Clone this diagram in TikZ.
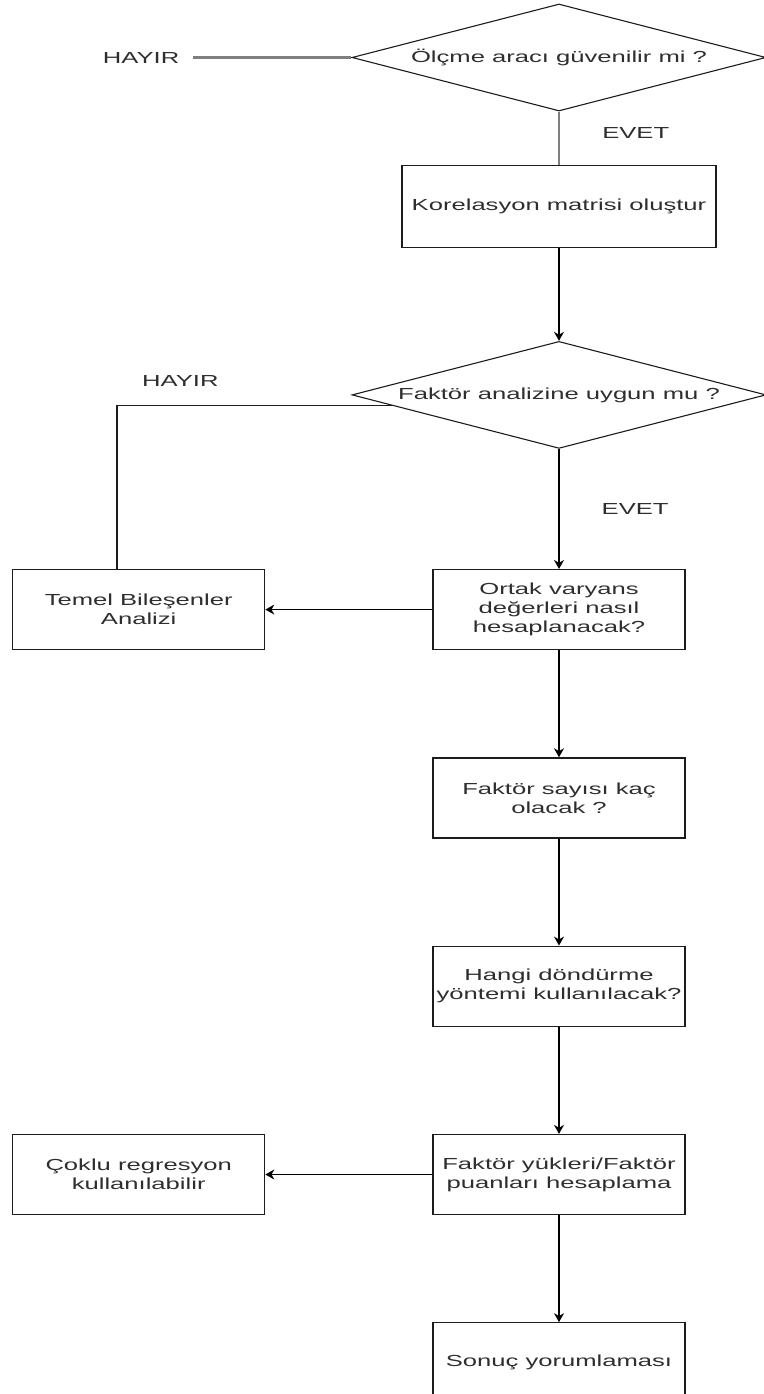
\documentclass[tikz,border=0pt]{standalone}
\usepackage{fontspec}
\setmainfont{Liberation Sans}[FakeStretch=1.6]
\usepackage{xcolor}
\usetikzlibrary{arrows.meta,positioning,calc,shapes.geometric}
\definecolor{Ink}{HTML}{2E2E2E}
\definecolor{Edge}{HTML}{1C1C1C}
\definecolor{Wire}{HTML}{7F7F7F}
\tikzset{
  box/.style={draw=Edge,line width=1.3pt,minimum width=252pt,minimum height=80pt,align=center,font=\fontsize{16}{19}\selectfont,text=Ink,inner sep=2pt},
  ask/.style={draw=Edge,line width=1.1pt,diamond,aspect=3.87,minimum width=414pt,minimum height=107pt,inner sep=0pt,font=\fontsize{16}{19}\selectfont,text=Ink},
  lbl/.style={font=\fontsize{16}{19}\selectfont,text=Ink,inner sep=0pt},
  arr/.style={-{Stealth[length=9pt,width=10pt]},draw=black,line width=1.4pt},
  plain/.style={draw=Edge,line width=1.3pt},
  soft/.style={draw=Wire,line width=2.6pt}
}

\begin{document}
\begin{tikzpicture}[x=1pt,y=1pt,node distance=107pt]
  \useasboundingbox (0,0) rectangle (763,-1394);
  \node[ask] (olcme) at (559,-57.5) {Ölçme aracı güvenilir mi ?};
  \node[box,minimum width=314pt,minimum height=82pt,below=53pt of olcme] (korel) {Korelasyon matrisi oluştur};
  \node[ask,below=93pt of korel] (uygun) {Faktör analizine uygun mu ?};
  \node[box,below=120pt of uygun] (ortak) {Ortak varyans\\değerleri nasıl\\hesaplanacak?};
  \node[box,below=of ortak] (sayi) {Faktör sayısı kaç\\olacak ?};
  \node[box,below=of sayi] (donme) {Hangi döndürme\\yöntemi kullanılacak?};
  \node[box,below=of donme] (yuk) {Faktör yükleri/Faktör\\puanları hesaplama};
  \node[box,below=of yuk] (sonuc) {Sonuç yorumlaması};
  \node[box,left=167pt of ortak] (temel) {Temel Bileşenler\\Analizi};
  \node[box,left=167pt of yuk] (coklu) {Çoklu regresyon\\kullanılabilir};
  \node[lbl,left=172pt of olcme] (hayir1) {HAYIR};
  \draw[soft] ([xshift=14pt]hayir1.east) -- (olcme.west);
  \draw[soft] (olcme.south) -- node[lbl,pos=0.4,right=42pt] {EVET} (korel.north);
  \draw[arr] (korel) -- (uygun);
  \draw[arr] (uygun) -- node[lbl,right=42pt] {EVET} (ortak);
  \draw[plain] ($(uygun.west)!0.2!(uygun.south)$) -| node[lbl,pos=0.385,above=19pt] {HAYIR} ($(temel.north west)!0.414!(temel.north east)$);
  \draw[arr] (ortak) -- (temel);
  \draw[arr] (ortak) -- (sayi);
  \draw[arr] (sayi) -- (donme);
  \draw[arr] (donme) -- (yuk);
  \draw[arr] (yuk) -- (coklu);
  \draw[arr] (yuk) -- (sonuc);
\end{tikzpicture}
\end{document}
